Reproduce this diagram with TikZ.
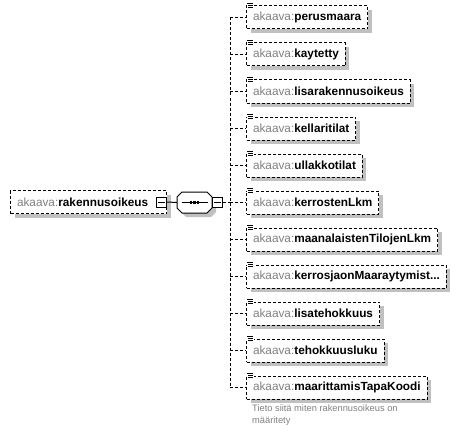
\documentclass[tikz,border=0pt]{standalone}
\usepackage{fontspec}
\setmainfont{Liberation Sans}
\usetikzlibrary{shadows}

\definecolor{pfxgray}{RGB}{128,128,128}
\definecolor{shadowgray}{RGB}{192,192,192}
\newcommand{\pfx}{\textcolor{pfxgray}{akaava:}}
\newcommand{\cutdots}{...}

\tikzset{
  grayshadow/.style={drop shadow={shadow xshift=4pt, shadow yshift=-4pt, fill=shadowgray, opacity=1}},
  dashline/.style={line width=1pt, dash pattern=on 3pt off 2pt},
  elembox/.style={draw, dashline, fill=white, anchor=west, minimum height=23pt,
    inner xsep=6.5pt, font=\fontsize{11.8}{14}\selectfont, grayshadow},
  minusbox/.style={draw, solid, line width=1pt, fill=white, minimum size=10pt, inner sep=0pt},
}

\begin{document}
\begin{tikzpicture}[x=1pt, y=-1pt]
  \useasboundingbox (0,0) rectangle (462,433);

  % root element
  \node[elembox, text width=143pt] (root) at (10,202) {\pfx\textbf{rakennusoikeus}};
  \node[minusbox, anchor=east] (rootminus) at (root.east) {};
  \draw[line width=1pt] ([xshift=2pt]rootminus.west) -- ([xshift=-2pt]rootminus.east);

  % sequence
  \node[minimum width=35pt, minimum height=21pt, inner sep=0pt] (seq) at (194.5,202.5) {};
  \begin{scope}[shift={(seq.center)}]
    \filldraw[line width=1pt, fill=white, grayshadow]
      (-12.5,-10.5) -- (12.5,-10.5) -- (17.5,-5.5) -- (17.5,5.5) -- (12.5,10.5)
      -- (-12.5,10.5) -- (-17.5,5.5) -- (-17.5,-5.5) -- cycle;
    \draw[line width=1pt] (-13,0) -- (13,0);
    \foreach \d in {-3.6,0,3.6}
      \fill (\d-1.3,-1.5) rectangle (\d+1.3,1.5);
  \end{scope}
  \node[minusbox, anchor=west] (seqminus) at (seq.east) {};
  \draw[line width=1pt] ([xshift=2pt]seqminus.west) -- ([xshift=-2pt]seqminus.east);
  \draw[line width=1pt] (rootminus.east) -- (seq.west);

  % children
  \coordinate (spine) at (230,202.5);
  \foreach \name [count=\k from 0] in {perusmaara, kaytetty, lisarakennusoikeus, kellaritilat,
      ullakkotilat, kerrostenLkm, maanalaistenTilojenLkm, kerrosjaonMaaraytymist\cutdots,
      lisatehokkuus, tehokkuusluku, maarittamisTapaKoodi} {
    \node[elembox] (e\k) at (246,{17.5+37*\k}) {\pfx\textbf{\name}};
    \draw[dashline] (spine |- e\k.west) -- (e\k.west);
    \begin{scope}[shift={(e\k.north west)}]
      \fill[white] (0.5,-3.5) rectangle (8,3);
      \draw[line width=0.8pt] (1,-2) -- (7,-2) (2,0) -- (7,0) (2,2) -- (7,2);
    \end{scope}
  }
  \draw[dashline] (seqminus.east) -- (spine);
  \draw[dashline] (spine |- e0.west) -- (spine |- e10.west);

  % annotation
  \node[anchor=north west, align=left, text=pfxgray, inner sep=0pt,
    font=\fontsize{9.3}{11.5}\selectfont] (note) at (252,405)
    {Tieto siitä miten rakennusoikeus on\\määritety};
\end{tikzpicture}
\end{document}
